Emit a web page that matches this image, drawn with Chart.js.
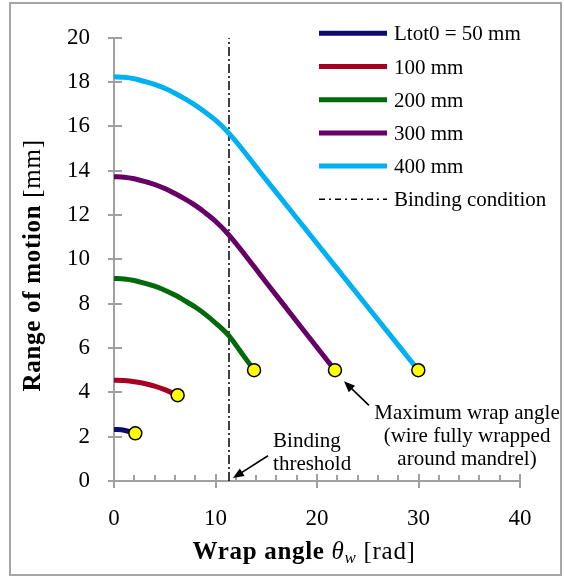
<!DOCTYPE html>
<html><head><meta charset="utf-8">
<script src="https://cdn.jsdelivr.net/npm/chart.js@4.4.0/dist/chart.umd.min.js"></script>
<style>html,body{margin:0;padding:0;background:#fff;} canvas{display:block;}</style>
</head><body>
<canvas id="c" width="564" height="577" style="width:564px;height:577px"></canvas>
<script>
// ---- data ----
const seriesNames = ['Ltot0 = 50 mm', '100 mm', '200 mm', '300 mm', '400 mm'];
const bindingName = 'Binding condition';
const x50  = [0, 1, 2.1];
const y50  = [2.33, 2.29, 2.15];
const x100 = [0, 1, 2, 3, 4, 5, 6.27];
const y100 = [4.55, 4.53, 4.48, 4.40, 4.28, 4.12, 3.87];
const x200 = [0, 1, 2, 3, 4, 5, 6, 7, 8, 9, 10, 11.33, 12.5, 13.8];
const y200 = [9.14, 9.12, 9.05, 8.93, 8.79, 8.61, 8.39, 8.13, 7.85, 7.52, 7.13, 6.55, 5.82, 5.0];
const x300 = [0, 1, 2, 3, 4, 5, 6, 7, 8, 9, 10, 11.33, 15, 18, 21.77];
const y300 = [13.73, 13.71, 13.64, 13.52, 13.38, 13.20, 12.97, 12.72, 12.44, 12.10, 11.72, 11.10, 8.96, 7.20, 5.0];
const x400 = [0, 1, 2, 3, 4, 5, 6, 7, 8, 9, 10, 11.33, 15, 20, 25, 29.98];
const y400 = [18.24, 18.22, 18.15, 18.03, 17.90, 17.72, 17.50, 17.24, 16.96, 16.64, 16.28, 15.69, 13.59, 10.72, 7.85, 5.0];
const bindingAngle = 11.33;
const xTickLabels = [0, 10, 20, 30, 40];
const xMinorTicks = [2, 4, 6, 8, 12, 14, 16, 18, 22, 24, 26, 28, 32, 34, 36, 38];
const yTickLabels = [0, 2, 4, 6, 8, 10, 12, 14, 16, 18, 20];

const colors = ['#0C0C6E', '#A50021', '#006A0A', '#660066', '#00B0F0'];
const F = '"Liberation Serif", "Times New Roman", serif';

const xs = [x50, x100, x200, x300, x400];
const ys = [y50, y100, y200, y300, y400];

const datasets = seriesNames.map((name, k) => ({
  label: name,
  data: xs[k].map((x, i) => ({x: x, y: ys[k][i]})),
  borderColor: colors[k],
  backgroundColor: colors[k],
  borderWidth: 5,
  cubicInterpolationMode: 'monotone',
  fill: false,
  pointRadius: c => (c.dataIndex === xs[k].length - 1 ? 6.5 : 0),
  pointHoverRadius: c => (c.dataIndex === xs[k].length - 1 ? 6.5 : 0),
  pointBackgroundColor: '#FFFF00',
  pointBorderColor: '#000000',
  pointBorderWidth: 1.5
}));
datasets.push({
  label: bindingName,
  data: [{x: bindingAngle, y: 0}, {x: bindingAngle, y: 20}],
  borderColor: '#000',
  borderWidth: 1.5,
  borderDash: [9, 3, 2, 3],
  pointRadius: 0,
  fill: false
});

function drawArrow(ctx, x1, y1, x2, y2) {
  const a = Math.atan2(y2 - y1, x2 - x1), L = 11, W = 4.5;
  ctx.save();
  ctx.strokeStyle = '#000'; ctx.fillStyle = '#000'; ctx.lineWidth = 1.6;
  ctx.beginPath();
  ctx.moveTo(x1, y1);
  ctx.lineTo(x2 - Math.cos(a) * L * 0.8, y2 - Math.sin(a) * L * 0.8);
  ctx.stroke();
  ctx.beginPath();
  ctx.moveTo(x2, y2);
  ctx.lineTo(x2 - Math.cos(a) * L - Math.sin(a) * W, y2 - Math.sin(a) * L + Math.cos(a) * W);
  ctx.lineTo(x2 - Math.cos(a) * L + Math.sin(a) * W, y2 - Math.sin(a) * L - Math.cos(a) * W);
  ctx.closePath(); ctx.fill();
  ctx.restore();
}

function drawRich(ctx, segs, cx, baseY) {
  let total = 0;
  segs.forEach(s => { ctx.font = s.f; s.w = ctx.measureText(s.t).width; total += s.w; });
  let x = cx - total / 2;
  segs.forEach(s => { ctx.font = s.f; ctx.fillText(s.t, x, baseY + (s.dy || 0)); x += s.w; });
}

const deco = {
  id: 'deco',
  beforeDraw(chart) {
    const ctx = chart.ctx;
    ctx.save();
    ctx.fillStyle = '#fff'; ctx.fillRect(0, 0, chart.width, chart.height);
    ctx.strokeStyle = '#a6a6a6'; ctx.lineWidth = 2;
    ctx.strokeRect(10, 3, 551, 572);
    ctx.restore();
  },
  afterDraw(chart) {
    const ctx = chart.ctx, xS = chart.scales.x, yS = chart.scales.y, ca = chart.chartArea;
    ctx.save();
    // tick marks
    ctx.strokeStyle = '#a0a0a0'; ctx.lineWidth = 2;
    ctx.beginPath();
    yTickLabels.forEach(v => { const p = Math.round(yS.getPixelForValue(v)); ctx.moveTo(ca.left - 6, p); ctx.lineTo(ca.left + 8, p); });
    xTickLabels.forEach(v => { const p = Math.round(xS.getPixelForValue(v)); ctx.moveTo(p, ca.bottom - 7); ctx.lineTo(p, ca.bottom + 7); });
    xMinorTicks.forEach(v => { const p = Math.round(xS.getPixelForValue(v)); ctx.moveTo(p, ca.bottom - 6); ctx.lineTo(p, ca.bottom); });
    ctx.stroke();

    // legend
    const lx0 = 319, lx1 = 387, tx = 394;
    chart.data.datasets.forEach((ds, i) => {
      const ry = 33.3 + i * 33.2;
      ctx.save();
      ctx.strokeStyle = ds.borderColor;
      ctx.lineWidth = ds.borderDash ? 1.5 : 5;
      ctx.setLineDash(ds.borderDash ? [6, 4, 2, 4] : []);
      ctx.beginPath(); ctx.moveTo(lx0, ry); ctx.lineTo(lx1, ry); ctx.stroke();
      ctx.restore();
      ctx.fillStyle = '#000'; ctx.font = '21px ' + F; ctx.textAlign = 'left'; ctx.textBaseline = 'alphabetic';
      ctx.fillText(ds.label, tx, ry + 7);
    });

    // annotations
    ctx.fillStyle = '#000'; ctx.font = '21px ' + F; ctx.textBaseline = 'alphabetic';
    ctx.textAlign = 'left';
    const bx = xS.getPixelForValue(15.67);
    ctx.fillText('Binding', bx, yS.getPixelForValue(1.53));
    ctx.fillText('threshold', bx, yS.getPixelForValue(0.48));
    drawArrow(ctx, xS.getPixelForValue(15.17), yS.getPixelForValue(1.14), xS.getPixelForValue(11.72), yS.getPixelForValue(0.13));
    ctx.textAlign = 'center';
    const mx = xS.getPixelForValue(34.78);
    ctx.fillText('Maximum wrap angle', mx, yS.getPixelForValue(2.79));
    ctx.fillText('(wire fully wrapped', mx, yS.getPixelForValue(1.75));
    ctx.fillText('around mandrel)', mx, yS.getPixelForValue(0.70));
    drawArrow(ctx, xS.getPixelForValue(25.12), yS.getPixelForValue(3.41), xS.getPixelForValue(22.66), yS.getPixelForValue(4.50));

    // axis titles
    ctx.textAlign = 'left';
    try { ctx.letterSpacing = '0.7px'; } catch (e) {}
    drawRich(ctx, [
      {t: 'Wrap angle ', f: 'bold 25px ' + F},
      {t: 'θ', f: 'italic 25px ' + F},
      {t: 'w', f: 'italic 17px ' + F, dy: 4},
      {t: ' [rad]', f: '25px ' + F}
    ], (ca.left + ca.right) / 2 - 13, 559);
    ctx.save();
    ctx.translate(39.5, (ca.top + ca.bottom) / 2 + 6);
    ctx.rotate(-Math.PI / 2);
    drawRich(ctx, [
      {t: 'Range of motion ', f: 'bold 25px ' + F},
      {t: '[mm]', f: '25px ' + F}
    ], 0, 0);
    ctx.restore();
    ctx.restore();
  }
};

new Chart(document.getElementById('c'), {
  type: 'line',
  data: {datasets: datasets},
  options: {
    responsive: false,
    animation: false,
    events: [],
    layout: {padding: {top: 23, right: 44, left: 0, bottom: 0}},
    plugins: {legend: {display: false}, tooltip: {enabled: false}},
    scales: {
      x: {
        type: 'linear', min: 0, max: 40,
        afterFit: s => { s.height = 96; },
        afterBuildTicks: s => { s.ticks = xTickLabels.map(v => ({value: v})); },
        grid: {display: false, drawTicks: false},
        border: {display: true, color: '#a0a0a0', width: 2},
        ticks: {font: {family: F, size: 23}, color: '#000', padding: 24, maxRotation: 0}
      },
      y: {
        type: 'linear', min: 0, max: 20,
        afterFit: s => { s.width = 114; },
        afterBuildTicks: s => { s.ticks = yTickLabels.map(v => ({value: v})); },
        grid: {display: false, drawTicks: false},
        border: {display: true, color: '#a0a0a0', width: 2},
        ticks: {font: {family: F, size: 23}, color: '#000', padding: 24}
      }
    }
  },
  plugins: [deco]
});
</script>
</body></html>
